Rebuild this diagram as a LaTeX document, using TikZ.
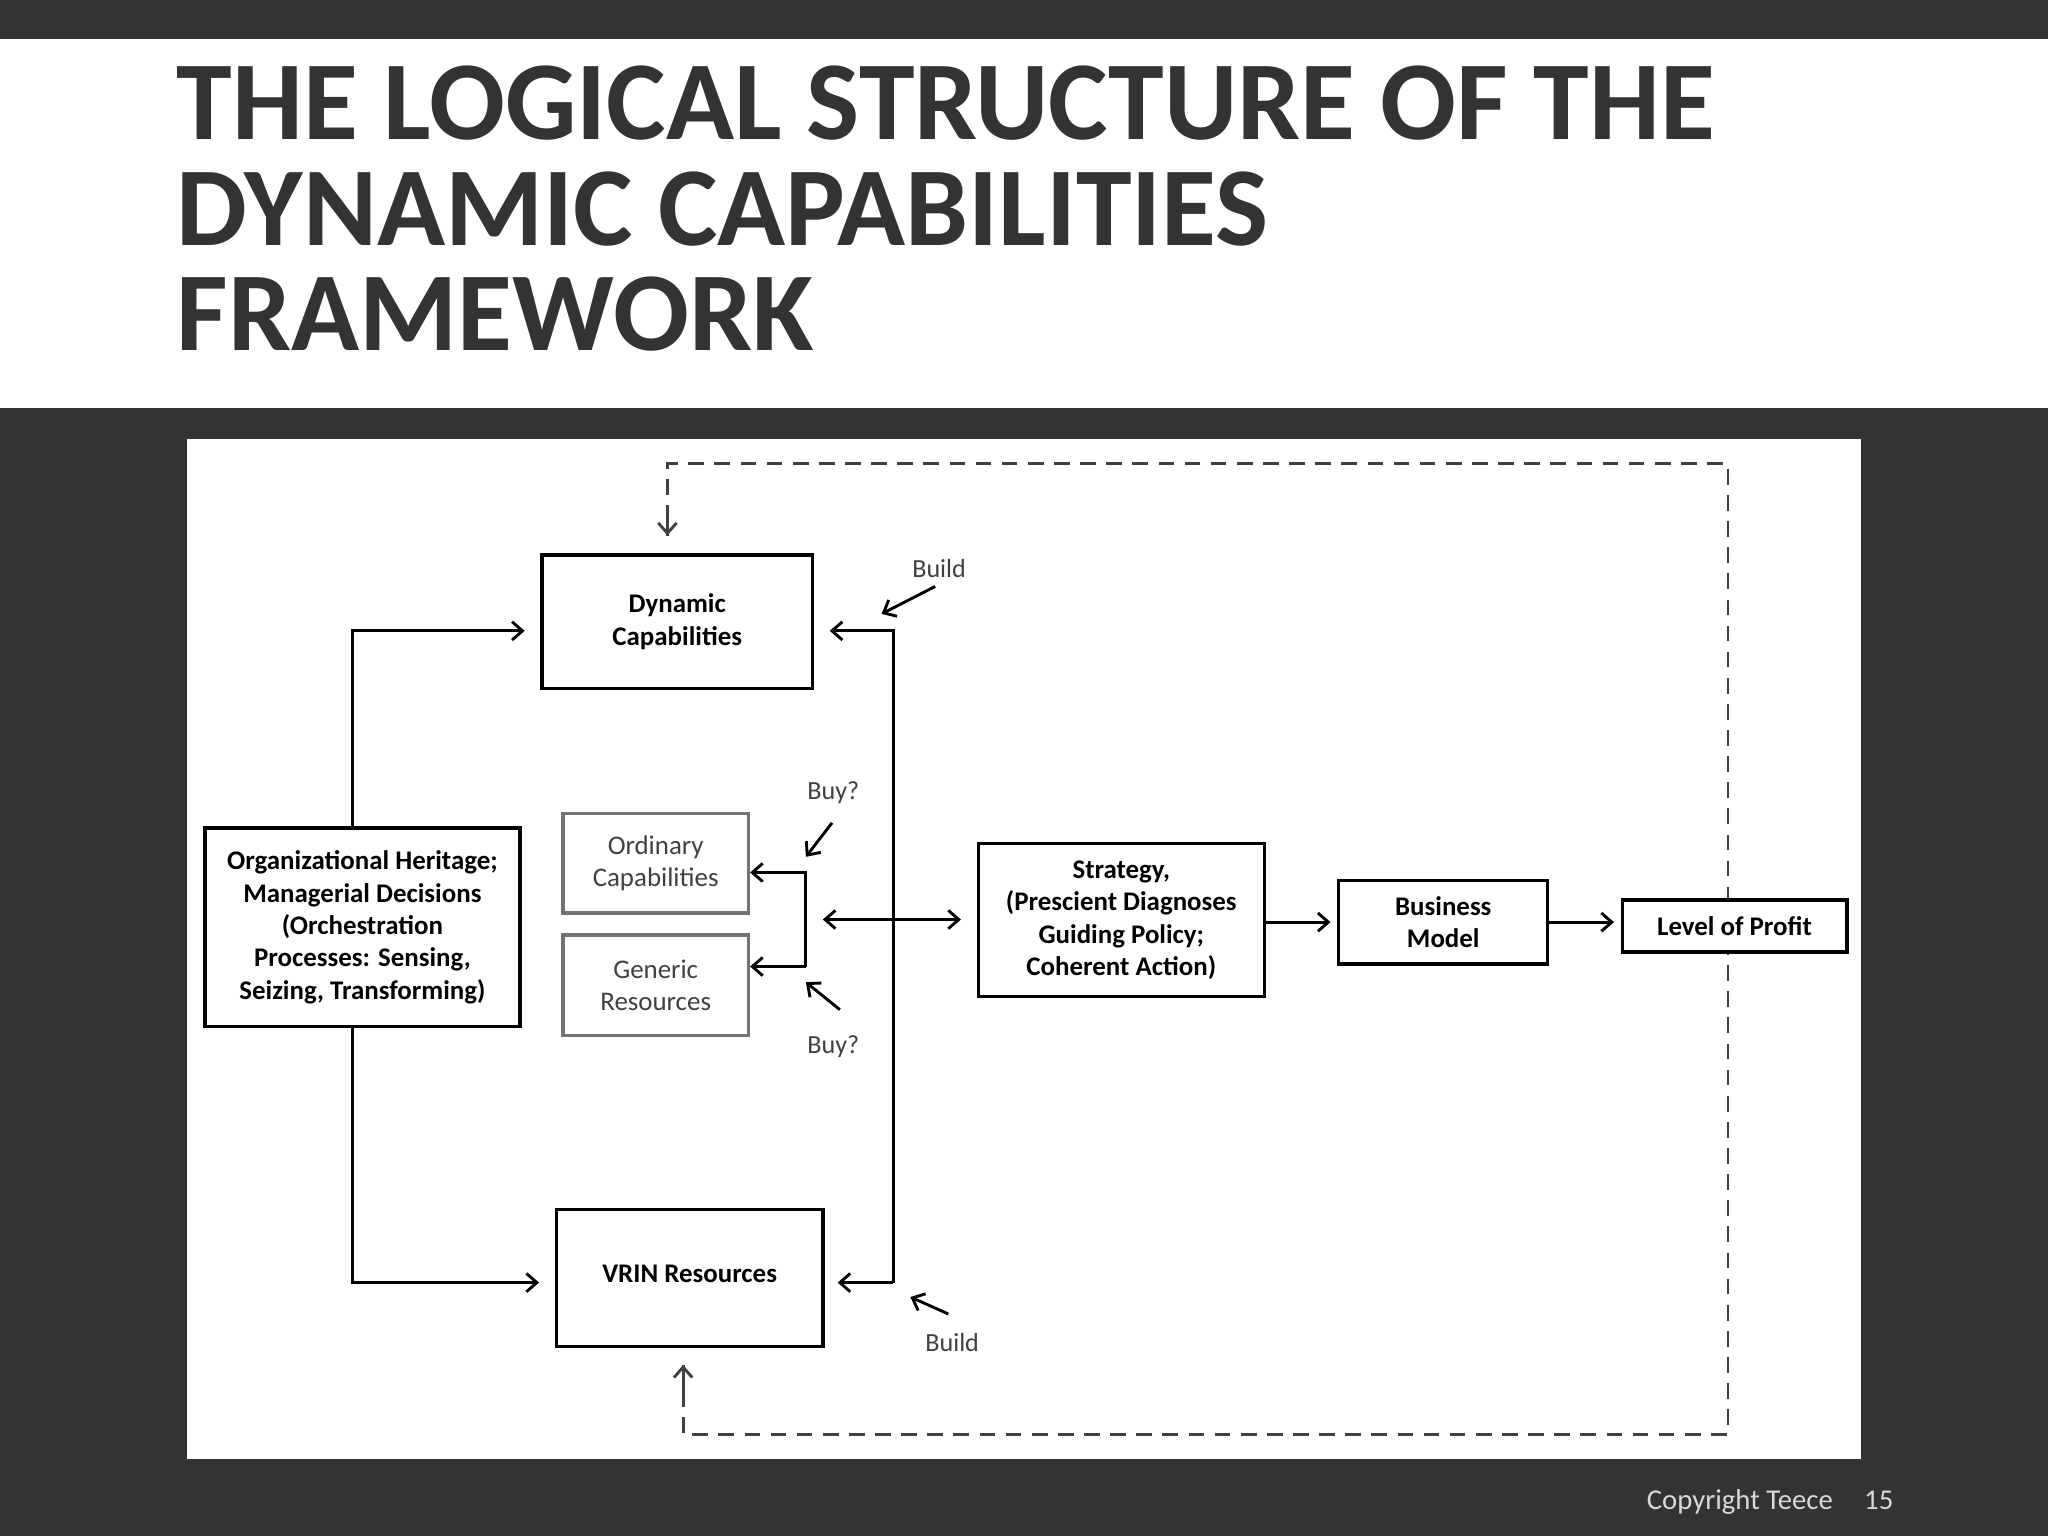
\documentclass[tikz,border=0pt]{standalone}
\usepackage{fontspec}
\setmainfont{Carlito}
\usetikzlibrary{arrows.meta}
\definecolor{dark}{HTML}{333333}
\begin{document}
\begin{tikzpicture}[x=0.5pt,y=-0.5pt,
  box/.style={draw=black,line width=1.3pt,fill=white,align=center,font=\fontsize{10.3}{12.4}\selectfont\bfseries,inner sep=0pt},
  gbox/.style={draw=black!55,line width=1.3pt,fill=white,align=center,font=\fontsize{10.3}{12.4}\selectfont,text=black!75,inner sep=0pt},
  arr/.style={line width=1.1pt,-{Straight Barb[length=4pt,width=7pt]}},
  darr/.style={line width=1.1pt,{Straight Barb[length=4pt,width=7pt]}-{Straight Barb[length=4pt,width=7pt]}},
  dline/.style={line width=1.1pt,draw=black!75,dash pattern=on 6pt off 4pt},
  lab/.style={font=\fontsize{10}{12}\selectfont,text=black!75},
  ttl/.style={anchor=base west,text=dark,font=\fontsize{43}{46}\selectfont\bfseries,inner sep=0pt}]
\useasboundingbox (0,0) rectangle (1568,1176);
\fill[dark] (0,0) rectangle (1568,1176);
\fill[white] (0,30) rectangle (1568,312);
\fill[white] (143,336) rectangle (1425,1117);
\node[ttl] (t1) at (135,107) {THE LOGICAL STRUCTURE OF THE};
\node[ttl] (t2) at (135,188) {DYNAMIC CAPABILITIES};
\node[ttl] (t3) at (135,268) {FRAMEWORK};
\node[anchor=base east,text=white!85!black,font=\fontsize{11}{13}\selectfont,inner sep=0pt] (ft) at (1450,1156) {Copyright Teece\hspace{12pt}15};
% dashed loop
\coordinate (d1) at (511,410); \coordinate (d2) at (511,355); \coordinate (d3) at (1323,355);
\coordinate (d4) at (1323,1098); \coordinate (d5) at (523,1098); \coordinate (d6) at (523,1045);
\draw[dline] (d6) -- (d5) -- (d4) -- (d3) -- (d2) -- (d1);
\draw[line width=1.1pt,black!75,-{Straight Barb[length=4pt,width=7pt]}] (511,390) -- (d1);
\draw[line width=1.1pt,black!75,-{Straight Barb[length=4pt,width=7pt]}] (523,1065) -- (d6);
% boxes
\node[box,minimum width=103.5pt,minimum height=51pt] (dc) at (518.5,476) {Dynamic\\Capabilities};
\node[gbox,minimum width=71pt,minimum height=38pt] (oc) at (502,661) {Ordinary\\Capabilities};
\node[gbox,minimum width=71pt,minimum height=38.5pt] (gr) at (502,754.5) {Generic\\Resources};
\node[box,minimum width=120.5pt,minimum height=76pt] (oh) at (277.5,710) {Organizational Heritage;\\Managerial Decisions\\(Orchestration\\Processes: Sensing,\\Seizing, Transforming)};
\node[box,minimum width=102pt,minimum height=52.5pt] (vr) at (528,978.5) {\raisebox{3pt}{VRIN Resources}};
\node[box,minimum width=109.5pt,minimum height=58.5pt] (st) at (858.5,704.5) {Strategy,\\(Prescient Diagnoses\\Guiding Policy;\\Coherent Action)};
\node[box,minimum width=80pt,minimum height=32pt] (bm) at (1105,706) {Business\\Model};
\node[box,minimum width=86pt,minimum height=20pt] (lp) at (1328,709) {Level of Profit};
% connectors
\coordinate (a1) at (270,483); \coordinate (a2) at (270,982);
\draw[arr] (oh.north -| a1) -- (a1) -- ([xshift=-6pt]dc.west |- a1);
\draw[arr] (oh.south -| a2) -- (a2) -- ([xshift=-6pt]vr.west |- a2);
\coordinate (r1) at (684,483); \coordinate (r2) at (684,982);
\draw[arr] (r2) -- (r1) -- ([xshift=6pt]dc.east |- r1);
\draw[arr] (r1 |- r2) -- ([xshift=5pt]vr.east |- r2);
\coordinate (b1) at (617,668); \coordinate (b2) at (617,740);
\draw[arr] (b2) -- (b1) -- (oc.east |- b1);
\draw[arr] (b1 |- b2) -- (gr.east |- b2);
\coordinate (m1) at (630,704);
\draw[darr] (m1) -- ([xshift=-6pt]st.west |- m1);
\draw[arr] (st.east |- bm) -- ([xshift=-2.5pt]bm.west);
\draw[arr] (bm.east) -- ([xshift=-2.5pt]lp.west |- bm);
% small labels
\node[lab] (l1) at (719,435) {Build};
\node[lab] (l2) at (638,607) {Buy?};
\node[lab] (l3) at (638,801) {Buy?};
\node[lab] (l4) at (729,1028) {Build};
\draw[arr] (716,449) -- (675,470);
\draw[arr] (637,630) -- (617,656);
\draw[arr] (643,773) -- (617,752);
\draw[arr] (726,1006) -- (697,993);
\end{tikzpicture}
\end{document}
